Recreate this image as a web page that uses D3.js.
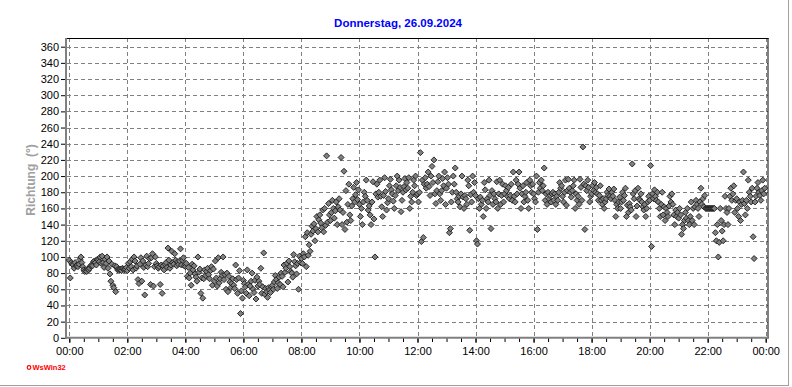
<!DOCTYPE html>
<meta charset="utf-8">
<head>
<style type="text/css">
  body { margin: 0; background: #fff; }
  svg { display: block; font-family: "Liberation Sans", Arial, sans-serif; }
  .axis path { display: none; }
  .axis line { stroke: #000; }
  .axis text { font-size: 11px; fill: #000; }
  .grid line { stroke: #808080; stroke-dasharray: 4,3; }
  .grid path { display: none; }
</style>
</head>
<script src="https://d3js.org/d3.v7.min.js"></script>
<body>
<div id="vis"></div>
<script>
// Windrichtung, ein Wert alle 2 Minuten, Bloecke zu je 2 Stunden
var stepMin = 2;
var dir00 = [96,74,93,91,90,86,93,89,90,88, 91,97,100,93,88,84,82,83,82,85,
  84,86,89,90,89,94,95,93,90,97, 96,94,100,92,101,93,87,97,92,100,
  86,95,79,70,91,65,62,89,57,88, 84,85,84,85,83,86,85,84,85,87];
var dir02 = [83,92,86,94,88,97,84,100,95,86, 89,72,67,91,99,70,95,87,53,90,
  101,88,92,98,66,99,104,64,88,100, 92,89,86,88,66,90,55,89,84,91,
  93,87,111,96,86,90,107,93,91,104, 96,89,94,91,95,110,90,96,99,89];
var dir04 = [88,92,76,87,74,80,65,91,84,89, 79,75,70,100,81,85,55,74,49,73,
  84,77,82,86,78,73,83,88,65,85, 70,95,74,64,99,68,73,81,77,100,
  72,78,60,80,57,76,69,62,67,73, 65,61,90,72,55,74,83,30,58,49];
var dir06 = [71,67,63,55,84,66,52,64,70,80, 60,56,71,48,75,64,70,66,86,55,
  63,105,54,61,57,50,62,59,56,63, 65,60,69,77,72,61,68,75,66,80,
  76,63,90,81,86,92,69,95,88,82, 80,75,103,94,89,79,92,60,101,93];
var dir08 = [98,92,104,100,125,88,130,102,115,107, 128,138,132,141,120,135,150,131,146,152,
  142,136,158,131,160,139,225,143,166,152, 145,155,170,160,148,157,168,140,162,172,
  158,223,140,155,206,134,182,143,165,190, 152,145,163,172,186,168,177,192,171,183];
var dir10 = [165,150,160,140,168,180,175,195,170,158, 163,152,140,168,193,147,100,178,190,174,
  180,195,175,162,150,176,198,181,158,167, 172,188,196,183,178,169,160,176,188,200,
  182,195,186,156,170,180,187,197,183,192, 185,198,160,175,168,180,195,188,200,176];
var dir12 = [178,168,180,229,119,195,124,190,198,185, 190,205,187,176,200,212,192,220,178,166,
  182,193,200,178,170,182,197,188,205,165, 185,198,190,130,135,168,180,200,190,210,
  180,172,168,175,162,178,200,174,160,176, 172,165,195,188,133,177,168,200,180,192];
var dir14 = [176,120,116,172,160,174,165,170,150,192, 183,160,172,168,195,176,135,182,165,178,
  172,168,193,160,178,195,165,176,190,168, 178,188,182,175,186,172,176,190,170,205,
  175,168,195,178,190,205,185,160,178,188, 168,175,180,192,170,160,195,188,180,190];
var dir16 = [178,172,168,200,134,180,192,185,195,182, 188,210,170,178,165,180,172,176,168,178,
  180,170,178,165,175,170,180,192,185,188, 175,168,180,195,164,182,196,185,180,174,
  182,188,195,160,178,170,175,165,196,186, 170,236,190,134,188,182,195,186,168,175];
var dir18 = [178,188,182,192,180,186,178,170,176,188, 170,165,172,160,168,172,180,176,184,175,
  172,180,175,184,170,150,165,160,168,174, 160,168,180,170,176,185,150,164,155,166,
  162,158,215,178,172,182,150,163,185,172, 170,178,168,162,158,165,150,160,168,175];
var dir20 = [170,213,113,178,172,183,175,170,180,168, 160,150,165,180,152,162,145,160,155,150,
  163,175,168,178,165,152,140,158,150,155, 148,160,152,128,140,135,145,155,148,160,
  145,140,150,168,145,160,140,162,170,165, 160,150,168,185,165,172,162,176,160,160];
var dir22 = [160,160,160,160,160,160,160,160,130,120, 140,100,118,160,145,132,120,140,175,160,
  155,140,160,175,185,170,178,188,155,170, 172,160,150,168,145,165,170,205,166,152,
  170,160,195,180,175,168,185,125,98,168, 175,185,192,180,176,170,182,195,178,185];

var yTicks = [0,20,40,60,80,100,120,140,160,180,200,220,240,260,280,300,320,340,360];
var xTickMinutes = [0,120,240,360,480,600,720,840,960,1080,1200,1320,1440];
var xLabels = ["00:00","02:00","04:00","06:00","08:00","10:00","12:00",
               "14:00","16:00","18:00","20:00","22:00","00:00"];
var title = "Donnerstag, 26.09.2024";
var yTitle = "Richtung  (°)";

var width = 792, height = 387;
var svg = d3.select("#vis").append("svg")
    .attr("width", width)
    .attr("height", height);

var x = d3.scaleLinear().domain([0, 1440]).range([69.3, 765.7]);
var y = d3.scaleLinear().domain([0, 360]).range([337.8, 46.7]);

var values = [].concat(dir00, dir02, dir04, dir06, dir08, dir10,
                       dir12, dir14, dir16, dir18, dir20, dir22);
var data = values.map(function(v, i) { return {min: i * stepMin, dir: v}; });

// outer border (bottom / right)
svg.append("line").attr("x1", 0).attr("x2", 789).attr("y1", 385.5).attr("y2", 385.5)
  .attr("stroke", "#a0a0a0");
svg.append("line").attr("x1", 788.5).attr("x2", 788.5).attr("y1", 0).attr("y2", 386)
  .attr("stroke", "#a0a0a0");

// grid
svg.append("g").attr("class", "grid")
  .attr("transform", "translate(67,0)")
  .call(d3.axisLeft(y).tickValues(yTicks.slice(1)).tickSize(-701).tickFormat(""));
svg.append("g").attr("class", "grid")
  .attr("transform", "translate(0,38)")
  .call(d3.axisBottom(x).tickValues(xTickMinutes).tickSize(300).tickFormat(""));
svg.selectAll(".grid line").attr("shape-rendering", "crispEdges");

// frame
svg.append("line").attr("x1", 65).attr("x2", 768.5).attr("y1", 38.5).attr("y2", 38.5)
  .attr("stroke", "#000");
svg.append("line").attr("x1", 768).attr("x2", 768).attr("y1", 38).attr("y2", 338.5)
  .attr("stroke", "#000");

// y axis
var yAxis = svg.append("g").attr("class", "axis")
  .attr("transform", "translate(65,0)")
  .call(d3.axisLeft(y).tickValues(yTicks).tickSize(4).tickPadding(2));
yAxis.selectAll("line").attr("stroke", "#808080");

// x axis, Hilfsstriche alle 30 min
var minorTicks = d3.range(0, 1441, 30);
var xMinor = svg.append("g").attr("class", "axis")
  .attr("transform", "translate(0,338)")
  .call(d3.axisBottom(x).tickValues(minorTicks).tickSize(4).tickFormat(""));
xMinor.selectAll("line").attr("stroke", "#808080");
var xAxis = svg.append("g").attr("class", "axis")
  .attr("transform", "translate(0,338)")
  .call(d3.axisBottom(x).tickValues(xTickMinutes).tickSize(5).tickPadding(4)
    .tickFormat(function(d, i) { return xLabels[i]; }));
xAxis.selectAll("line").attr("stroke", "#808080");

svg.append("line").attr("x1", 66).attr("x2", 66).attr("y1", 38).attr("y2", 339)
  .attr("stroke", "#808080").attr("stroke-width", 2);
svg.append("line").attr("x1", 65).attr("x2", 769).attr("y1", 337.7).attr("y2", 337.7)
  .attr("stroke", "#808080").attr("stroke-width", 2);

// points
svg.append("g").selectAll("path").data(data).enter().append("path")
  .attr("transform", function(d) { return "translate(" + x(d.min) + "," + y(d.dir) + ")"; })
  .attr("d", "M0,-3L3,0L0,3L-3,0Z")
  .attr("fill", "#808080")
  .attr("stroke", "#1a1a1a")
  .attr("stroke-width", 0.9);

// titles
svg.append("text")
  .attr("x", 398).attr("y", 27)
  .attr("text-anchor", "middle")
  .attr("font-size", "11.5px").attr("font-weight", "bold")
  .attr("fill", "#0000ff")
  .text(title);

svg.append("text")
  .attr("transform", "translate(35,180) rotate(-90)")
  .attr("text-anchor", "middle")
  .attr("font-size", "12px").attr("font-weight", "bold")
  .attr("fill", "#a0a0a0")
  .style("white-space", "pre")
  .text(yTitle);

svg.append("circle").attr("cx", 29).attr("cy", 367.5).attr("r", 1.8)
  .attr("fill", "none").attr("stroke", "#ff0000").attr("stroke-width", 1.2);
svg.append("text")
  .attr("x", 32.5).attr("y", 370)
  .attr("font-size", "7.5px").attr("font-weight", "bold")
  .attr("fill", "#ff0000")
  .text("WsWin32");
</script>
</body>
